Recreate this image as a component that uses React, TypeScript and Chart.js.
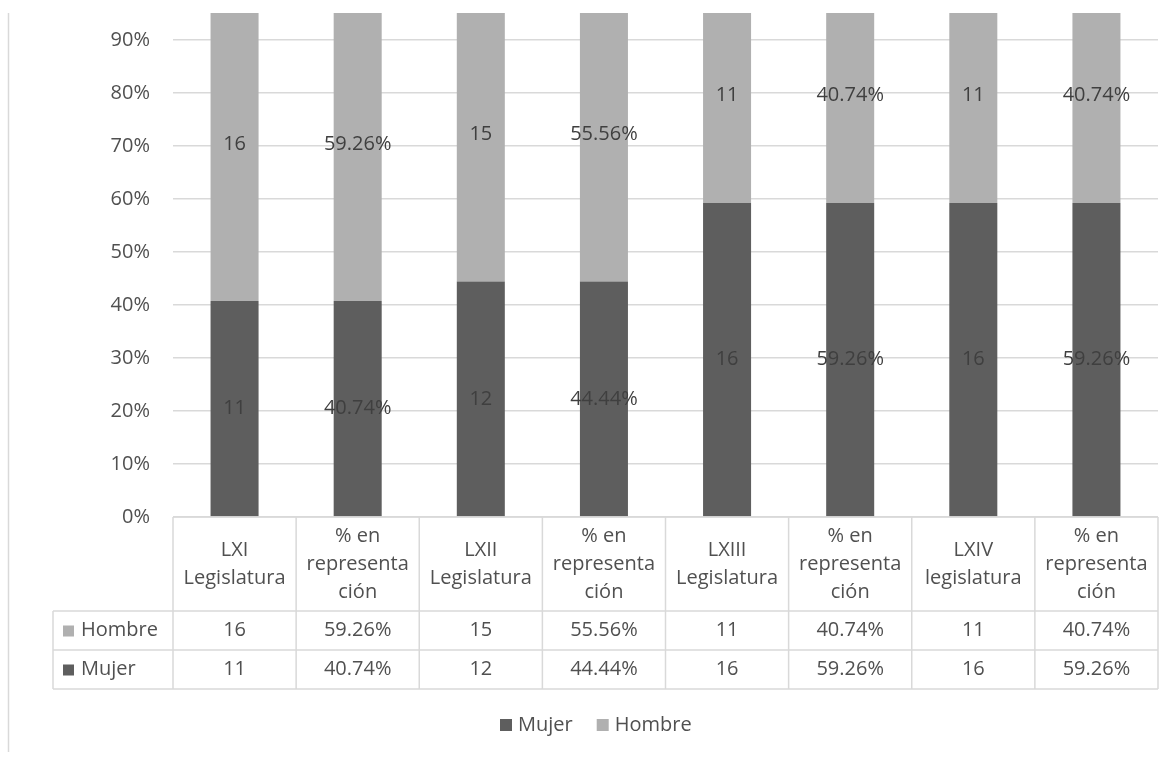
import { useEffect, useRef } from "react";
import { Chart, registerables } from "chart.js";

Chart.register(...registerables);

// Column headers of the data table (one entry per bar, split into lines)
const categories: string[][] = [
  ["LXI", "Legislatura"],
  ["% en", "representa", "ción"],
  ["LXII", "Legislatura"],
  ["% en", "representa", "ción"],
  ["LXIII", "Legislatura"],
  ["% en", "representa", "ción"],
  ["LXIV", "legislatura"],
  ["% en", "representa", "ción"],
];
const isPercentColumn = [false, true, false, true, false, true, false, true];
const mujer = [11, 40.74, 12, 44.44, 16, 59.26, 16, 59.26];
const hombre = [16, 59.26, 15, 55.56, 11, 40.74, 11, 40.74];
const seriesNames = ["Mujer", "Hombre"];
const seriesColors = ["#5e5e5e", "#b0b0b0"];
const yTickValues = [0, 0.1, 0.2, 0.3, 0.4, 0.5, 0.6, 0.7, 0.8, 0.9];

const FONT = '"Open Sans", "DejaVu Sans", sans-serif';
const TEXT = "#505050";
const LINE = "#d9d9d9";

const fmt = (v: number, i: number) => (isPercentColumn[i] ? `${v.toFixed(2)}%` : String(v));
const share = (a: number[], b: number[]) => a.map((v, i) => v / (v + b[i]));

const tablePlugin = {
  id: "tableAndLabels",
  afterDraw(chart: any) {
    const { ctx, chartArea } = chart;
    const xs = chart.scales.x;
    const n = categories.length;
    const colW = (chartArea.right - chartArea.left) / n;
    const raw = [mujer, hombre];
    ctx.save();
    ctx.font = `20px ${FONT}`;
    ctx.textAlign = "center";
    ctx.textBaseline = "middle";

    // value labels centred in each stacked segment
    ctx.fillStyle = "#3f3f3f";
    [0, 1].forEach((d) => {
      const meta = chart.getDatasetMeta(d);
      meta.data.forEach((el: any, i: number) => {
        const y = (el.y + el.base) / 2;
        ctx.fillText(fmt(raw[d][i], i), el.x, y);
      });
    });

    // data table
    const top = chartArea.bottom;
    const headerBottom = top + 94;
    const row1 = headerBottom + 39;
    const row2 = row1 + 39;
    const keyLeft = 53;
    ctx.strokeStyle = LINE;
    ctx.lineWidth = 1.5;
    ctx.beginPath();
    ctx.moveTo(chartArea.left, top);
    ctx.lineTo(chartArea.right, top);
    [headerBottom, row1, row2].forEach((y) => {
      ctx.moveTo(keyLeft, y);
      ctx.lineTo(chartArea.right, y);
    });
    for (let i = 0; i <= n; i++) {
      const x = chartArea.left + i * colW;
      ctx.moveTo(x, top);
      ctx.lineTo(x, row2);
    }
    ctx.moveTo(keyLeft, headerBottom);
    ctx.lineTo(keyLeft, row2);
    ctx.stroke();

    ctx.fillStyle = TEXT;
    const lh = 28;
    categories.forEach((lines, i) => {
      const cx = xs.getPixelForValue(i);
      const cy = (top + headerBottom) / 2;
      lines.forEach((t, k) => {
        ctx.fillText(t, cx, cy + (k - (lines.length - 1) / 2) * lh);
      });
      ctx.fillText(fmt(hombre[i], i), cx, (headerBottom + row1) / 2);
      ctx.fillText(fmt(mujer[i], i), cx, (row1 + row2) / 2);
    });

    // row keys
    ctx.textAlign = "left";
    const keys: [number, number][] = [
      [1, (headerBottom + row1) / 2],
      [0, (row1 + row2) / 2],
    ];
    keys.forEach(([d, y]) => {
      ctx.fillStyle = seriesColors[d];
      ctx.fillRect(63, y - 5, 11, 11);
      ctx.fillStyle = TEXT;
      ctx.fillText(seriesNames[d], 81, y);
    });

    // legend
    const legendY = 725;
    let lx = 500;
    [0, 1].forEach((d) => {
      ctx.fillStyle = seriesColors[d];
      ctx.fillRect(lx, legendY - 6, 12, 12);
      ctx.fillStyle = TEXT;
      ctx.fillText(seriesNames[d], lx + 18, legendY);
      lx += 18 + ctx.measureText(seriesNames[d]).width + 24;
    });

    // chart frame edge on the left
    ctx.beginPath();
    ctx.moveTo(8.5, chartArea.top);
    ctx.lineTo(8.5, 752);
    ctx.stroke();
    ctx.restore();
  },
};

export default function App() {
  const ref = useRef<HTMLCanvasElement>(null);
  useEffect(() => {
    if (!ref.current) return;
    const chart = new Chart(ref.current, {
      type: "bar",
      data: {
        labels: categories.map((c) => c.join(" ")),
        datasets: [
          {
            label: seriesNames[0],
            data: share(mujer, hombre),
            backgroundColor: seriesColors[0],
            categoryPercentage: 1,
            barPercentage: 0.39,
          },
          {
            label: seriesNames[1],
            data: share(hombre, mujer),
            backgroundColor: seriesColors[1],
            categoryPercentage: 1,
            barPercentage: 0.39,
          },
        ],
      },
      options: {
        animation: false,
        responsive: false,
        layout: { padding: { left: 0, top: 13, right: 17, bottom: 240 } },
        plugins: { legend: { display: false }, tooltip: { enabled: false } },
        scales: {
          x: { stacked: true, display: false },
          y: {
            stacked: true,
            min: 0,
            max: 0.951,
            afterFit: (s: any) => {
              s.width = 173;
              s.paddingTop = 0;
              s.paddingBottom = 0;
            },
            afterBuildTicks: (s: any) => {
              s.ticks = yTickValues.map((v) => ({ value: v }));
            },
            border: { display: false },
            grid: { color: LINE, lineWidth: 1.5, drawTicks: false },
            ticks: {
              padding: 23,
              color: TEXT,
              font: { family: FONT, size: 20 },
              callback: (v: any) => `${Math.round(Number(v) * 100)}%`,
            },
          },
        },
      },
      plugins: [tablePlugin],
    });
    return () => chart.destroy();
  }, []);
  return (
    <div style={{ position: "absolute", left: 0, top: 0, width: 1175, height: 757, background: "#fff" }}>
      <canvas ref={ref} width={1175} height={757} />
    </div>
  );
}
